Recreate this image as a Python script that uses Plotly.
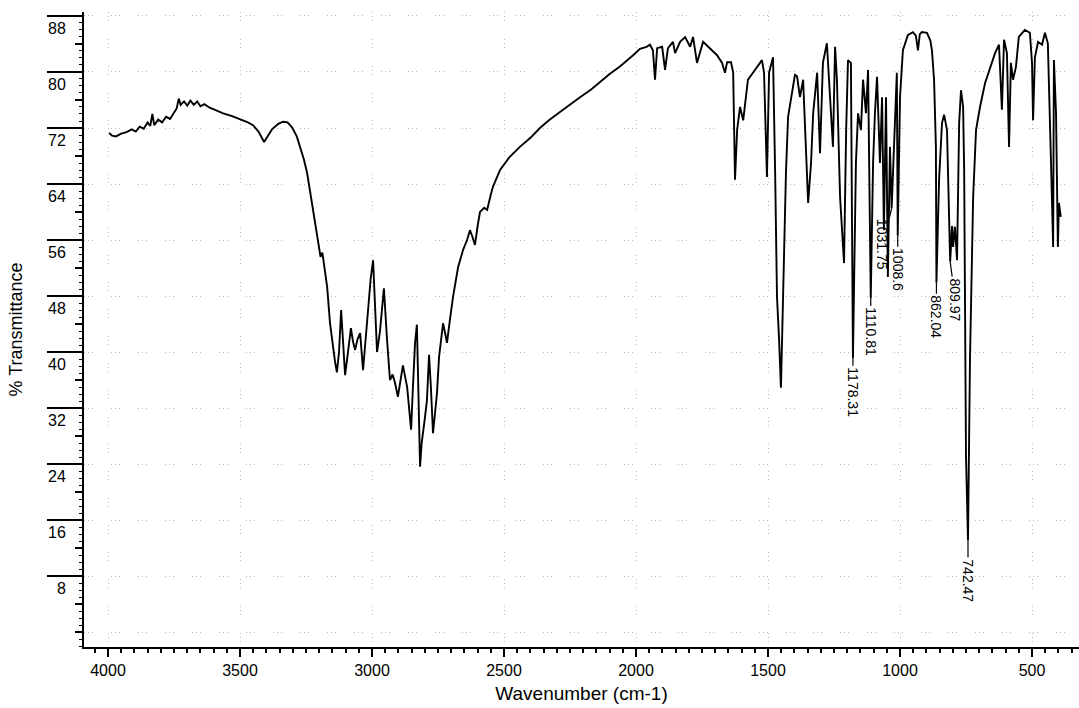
import plotly.graph_objects as go

# ---------------- data ----------------
wavenumber = [
    3996, 3985, 3970, 3950, 3930, 3910, 3895, 3880, 3865, 3850, 3840, 3832, 3825, 3810,
    3795, 3780, 3765, 3750, 3740, 3732, 3725, 3712, 3700, 3688, 3675, 3662, 3650, 3635,
    3615, 3590, 3564, 3530, 3500, 3470, 3451, 3430, 3409, 3395, 3379, 3355, 3337, 3320,
    3303, 3285, 3273, 3258, 3246, 3235, 3227, 3215, 3208, 3200, 3195, 3188, 3180, 3170,
    3159, 3148, 3140, 3133, 3125, 3117, 3110, 3102, 3091, 3080, 3072, 3064, 3055, 3045,
    3034, 3024, 3015, 3005, 2996, 2988, 2981, 2970, 2962, 2955, 2943, 2932, 2922, 2913,
    2902, 2892, 2883, 2867, 2860, 2852, 2845, 2837, 2830, 2824, 2818, 2812, 2807, 2800,
    2792, 2784, 2777, 2769, 2762, 2754, 2746, 2738, 2731, 2722, 2716, 2705, 2693, 2674,
    2655, 2640, 2629, 2620, 2610, 2600, 2591, 2575, 2564, 2550, 2542, 2515, 2480, 2440,
    2400, 2364, 2330, 2288, 2250, 2212, 2170, 2136, 2100, 2061, 2035, 2011, 1985, 1960,
    1947, 1936, 1928, 1920, 1901, 1890, 1879, 1860, 1852, 1833, 1814, 1795, 1784, 1769,
    1746, 1720, 1693, 1674, 1663, 1655, 1640, 1632, 1625, 1617, 1606, 1594, 1576, 1557,
    1542, 1523, 1515, 1504, 1496, 1481, 1473, 1466, 1458, 1451, 1443, 1432, 1424, 1409,
    1398, 1390, 1379, 1367, 1356, 1348, 1337, 1329, 1314, 1303, 1292, 1277, 1265, 1254,
    1246, 1239, 1227, 1220, 1212, 1204, 1197, 1186, 1178.31, 1167, 1159, 1148, 1140, 1129,
    1121, 1110.81, 1102, 1095, 1087, 1076, 1068, 1061, 1053, 1046, 1038, 1031.75, 1019, 1012,
    1008.6, 1000, 989, 970, 951, 940, 932, 925, 917, 898, 885, 879, 871, 864,
    862.04, 856, 852, 841, 833, 822, 816, 809.97, 803, 799, 792, 784, 776, 769,
    761, 757, 750, 742.47, 735, 727, 723, 712, 697, 678, 659, 640, 625, 614,
    606, 595, 587, 580, 572, 561, 550, 527, 508, 500, 496, 489, 477, 462,
    451, 440, 428, 420, 417, 409, 402, 398, 391,
]
transmittance = [
    71.3, 70.9, 70.8, 71.2, 71.4, 71.8, 71.5, 72.2, 71.9, 72.8, 72.3, 74.0, 72.4, 73.2,
    72.8, 73.6, 73.3, 74.3, 74.8, 76.2, 75.3, 75.8, 75.2, 75.9, 75.3, 75.8, 75.1, 75.4,
    74.9, 74.5, 74.1, 73.7, 73.3, 72.8, 72.4, 71.5, 70.0, 70.8, 71.8, 72.6, 72.9, 72.8,
    72.1, 70.8, 69.3, 67.5, 65.6, 63.0, 60.7, 57.8, 56.0, 54.5, 53.6, 54.2, 52.0, 49.3,
    44.1, 40.5, 38.6, 37.1, 40.0, 46.0, 41.0, 36.7, 40.0, 43.4, 41.5, 40.3, 41.8, 42.7,
    37.4, 42.0, 47.0, 50.5, 53.1, 47.0, 40.0, 42.9, 46.0, 49.1, 41.7, 36.0, 36.8, 35.6,
    33.6, 36.0, 38.1, 35.0, 31.5, 28.9, 35.0, 41.3, 43.9, 35.0, 23.6, 27.0, 28.9, 30.5,
    33.1, 39.6, 35.0, 28.4, 31.0, 34.1, 39.3, 42.0, 44.1, 42.5, 41.3, 44.6, 47.9, 52.1,
    54.6, 56.0, 57.4, 56.5, 55.3, 58.0, 60.0, 60.6, 60.3, 62.5, 63.6, 66.0, 67.8, 69.3,
    70.6, 72.0, 73.1, 74.3, 75.4, 76.4, 77.5, 78.6, 79.7, 80.8, 81.6, 82.4, 83.3, 83.6,
    83.9, 83.1, 78.9, 83.4, 83.6, 80.3, 83.4, 84.3, 82.7, 84.3, 85.0, 83.6, 85.0, 81.3,
    84.3, 83.4, 82.4, 81.3, 79.9, 81.4, 81.4, 79.9, 64.6, 71.7, 75.0, 73.1, 78.9, 79.9,
    80.7, 81.7, 79.9, 65.0, 79.9, 82.1, 65.6, 47.9, 41.7, 34.9, 47.9, 65.6, 73.6, 77.4,
    79.6, 79.4, 76.4, 78.9, 67.0, 61.3, 67.0, 74.1, 79.9, 68.4, 81.3, 84.1, 76.4, 69.3,
    83.6, 78.9, 62.1, 57.4, 52.7, 71.7, 81.7, 81.3, 39.1, 67.0, 74.1, 71.7, 78.9, 74.1,
    80.3, 47.7, 67.0, 74.1, 79.3, 67.0, 76.4, 57.4, 76.4, 50.7, 69.3, 60.5, 74.1, 79.9,
    56.6, 76.4, 83.1, 85.3, 85.7, 85.2, 83.1, 85.4, 85.7, 85.6, 84.5, 83.1, 78.9, 69.3,
    49.9, 60.0, 64.6, 72.7, 73.9, 71.7, 60.0, 52.9, 58.0, 55.0, 57.9, 53.1, 72.7, 77.4,
    75.0, 66.0, 25.0, 13.1, 38.9, 53.6, 62.1, 71.7, 75.0, 78.4, 80.7, 82.7, 83.9, 74.6,
    84.6, 82.7, 69.3, 81.3, 78.9, 80.7, 85.0, 86.0, 85.6, 81.3, 73.1, 82.1, 84.3, 83.9,
    85.6, 84.1, 67.0, 55.0, 81.7, 74.1, 55.0, 61.3, 59.3,
]

# labelled peaks
peak_labels = ["1178.31", "1110.81", "1031.75", "1008.6", "862.04", "809.97", "742.47"]
peak_wn = [1178.31, 1110.81, 1031.75, 1008.6, 862.04, 809.97, 742.47]
peak_T = [39.1, 47.7, 60.5, 56.6, 49.9, 52.9, 13.1]

x_tick_vals = [4000, 3500, 3000, 2500, 2000, 1500, 1000, 500]
x_tick_text = ["4000", "3500", "3000", "2500", "2000", "1500", "1000", "500"]
y_tick_vals = [8, 16, 24, 32, 40, 48, 56, 64, 72, 80, 88]
y_tick_text = ["8", "16", "24", "32", "40", "48", "56", "64", "72", "80", "88"]

X_RANGE = [4091, 322]
Y_RANGE = [-2.14, 88.57]
FONT = "Liberation Sans, Arial, sans-serif"
GRID = "#b8b8b8"
GRID_DASH = "1px,3px,1px,3px,1px,18px"

fig = go.Figure()
fig.add_trace(go.Scatter(
    x=wavenumber, y=transmittance, mode="lines",
    line=dict(color="black", width=1.9), showlegend=False, hoverinfo="skip",
))
# helper trace so the overlay y-axis (long ticks / grid) is drawn
fig.add_trace(go.Scatter(
    x=wavenumber[:1], y=transmittance[:1], mode="markers", yaxis="y2",
    marker=dict(opacity=0), showlegend=False, hoverinfo="skip",
))

annotations = []
# y tick labels sit just below the long tick marks
for v, t in zip(y_tick_vals, y_tick_text):
    annotations.append(dict(
        x=0, xref="paper", y=v, yref="y", text=t, showarrow=False,
        xanchor="right", yanchor="top", xshift=-16, yshift=-2,
        font=dict(family=FONT, size=16, color="black"),
    ))

# peak labels (rotated, with a short leader)
offsets = {"1031.75": (-9, 36), "809.97": (5, 38), "742.47": (0, 40)}
for lab, w, t in zip(peak_labels, peak_wn, peak_T):
    ax, ay = offsets.get(lab, (0, 34))
    annotations.append(dict(
        x=w, y=t, xref="x", yref="y", text=lab, textangle=90,
        showarrow=True, arrowhead=0, arrowwidth=1.2, arrowcolor="black",
        ax=ax, ay=ay, font=dict(family=FONT, size=14, color="black"),
    ))

fig.update_layout(
    width=1079, height=708,
    margin=dict(l=84, r=0, t=12, b=61),
    paper_bgcolor="white", plot_bgcolor="white",
    font=dict(family=FONT, size=16, color="black"),
    xaxis=dict(
        range=X_RANGE, showline=True, linecolor="black", linewidth=2,
        tickmode="array", tickvals=x_tick_vals, ticktext=x_tick_text,
        ticks="outside", ticklen=8, tickwidth=2, tickcolor="black",
        minor=dict(tick0=0, dtick=50, ticks="outside", ticklen=4, tickwidth=2,
                   tickcolor="black", showgrid=False),
        showgrid=True, gridcolor=GRID, griddash=GRID_DASH, gridwidth=1,
        zeroline=False, tickfont=dict(family=FONT, size=16, color="black"),
        title=dict(text="Wavenumber (cm-1)", font=dict(family=FONT, size=19, color="black"),
                   standoff=8),
    ),
    yaxis=dict(
        range=Y_RANGE, showline=True, linecolor="black", linewidth=2,
        tickmode="linear", tick0=0, dtick=4,
        ticks="outside", ticklen=7, tickwidth=2, tickcolor="black",
        minor=dict(tick0=0, dtick=1, ticks="outside", ticklen=3, tickwidth=1,
                   tickcolor="black", showgrid=False),
        showticklabels=False, showgrid=False, zeroline=False,
        title=dict(text="% Transmittance", font=dict(family=FONT, size=18, color="black"),
                   standoff=48),
    ),
    yaxis2=dict(
        range=Y_RANGE, overlaying="y", side="left", anchor="x",
        tickmode="array", tickvals=y_tick_vals,
        ticks="outside", ticklen=36, tickwidth=2, tickcolor="black",
        showticklabels=False, showline=False, zeroline=False,
        showgrid=True, gridcolor=GRID, griddash=GRID_DASH, gridwidth=1,
        minor=dict(tickmode="array", tickvals=[0], ticks="", showgrid=True,
                   gridcolor=GRID, griddash=GRID_DASH, gridwidth=1),
    ),
    annotations=annotations,
)

fig.write_html("out.html")
